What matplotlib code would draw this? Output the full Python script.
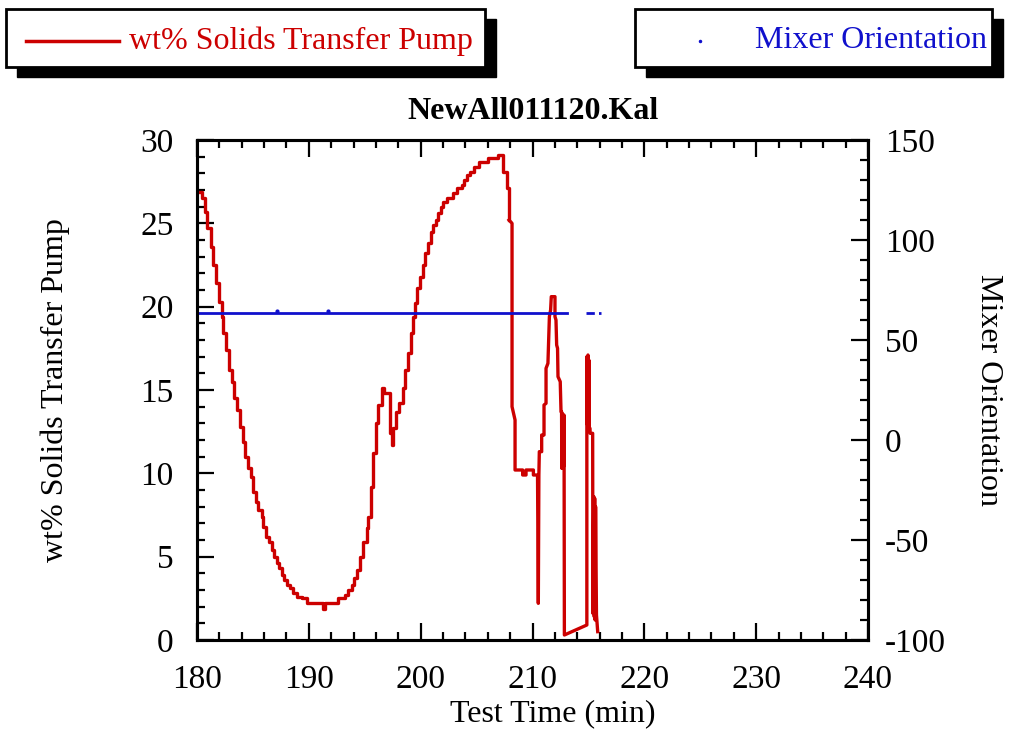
import matplotlib
matplotlib.use('Agg')
import matplotlib.pyplot as plt
from matplotlib.lines import Line2D
from matplotlib.patches import Rectangle
from matplotlib.ticker import MultipleLocator

#Sets data
#wt% solids, drawn as steps
t_pump_steps = [180.30, 180.45, 180.72, 180.92, 181.22, 181.46, 181.70, 181.98, 182.20, 182.35,
	182.59, 182.89, 183.10, 183.31, 183.61, 183.85, 184.08, 184.32, 184.59, 184.80,
	185.04, 185.28, 185.48, 185.78, 185.93, 186.17, 186.47, 186.68, 186.89, 187.12,
	187.36, 187.57, 187.81, 188.08, 188.32, 188.61, 188.91, 189.36, 189.87, 191.24,
	191.45, 192.64, 193.23, 193.53, 193.83, 194.07, 194.28, 194.58, 194.81, 195.17,
	195.32, 195.53, 195.77, 196.01, 196.22, 196.51, 196.72, 197.26, 197.41, 197.50,
	197.79, 198.09, 198.39, 198.60, 198.90, 199.11, 199.34, 199.49, 199.70, 199.94,
	200.18, 200.39, 200.69, 200.90, 201.13, 201.37, 201.58, 201.79, 202.03, 202.33,
	202.92, 203.22, 203.67, 203.88, 204.11, 204.41, 204.77, 205.25, 206.05, 206.95,
	207.33, 207.39, 207.69, 207.90]
wt_pump_steps = [26.9, 26.5, 25.7, 24.7, 23.6, 22.5, 21.4, 20.3, 19.4, 18.4,
	17.4, 16.2, 15.5, 14.5, 13.8, 12.8, 11.9, 11.0, 10.3, 9.8,
	8.9, 8.3, 7.8, 7.4, 6.8, 6.2, 5.9, 5.4, 5.0, 4.6,
	4.3, 3.9, 3.6, 3.3, 3.1, 2.8, 2.6, 2.5, 2.25, 1.85,
	2.25, 2.5, 2.7, 3.0, 3.3, 3.7, 4.2, 5.0, 5.9, 6.7,
	7.4, 9.2, 11.2, 13.0, 14.1, 15.1, 14.8, 12.4, 11.7, 12.7,
	13.7, 14.2, 15.1, 16.2, 17.2, 18.4, 19.4, 20.2, 21.1, 21.8,
	22.5, 23.2, 23.8, 24.5, 24.9, 25.2, 25.6, 26.0, 26.3, 26.5,
	26.8, 27.1, 27.3, 27.6, 27.9, 28.1, 28.4, 28.7, 28.9, 29.1,
	28.9, 28.1, 27.1, 25.2]

#wt% solids, end of the run
t_pump_tail = [207.90, 208.17, 208.17, 208.44, 208.44, 209.12, 209.12, 209.42, 209.42, 210.08,
	210.08, 210.45, 210.52, 210.57, 210.61, 210.82, 210.82, 211.03, 211.03, 211.21,
	211.21, 211.38, 211.51, 211.62, 211.68, 212.01, 212.01, 212.10, 212.16, 212.24,
	212.28, 212.48, 212.55, 212.60, 212.62, 212.66, 212.70, 212.74, 212.78, 212.82,
	212.85, 214.86, 214.86, 214.92, 214.96, 215.00, 215.04, 215.08, 215.14, 215.16,
	215.38, 215.40, 215.48, 215.52, 215.56, 215.60, 215.64, 215.72, 215.83]
wt_pump_tail = [25.2, 25.0, 14.0, 13.2, 10.2, 10.2, 9.9, 9.9, 10.2, 10.2,
	9.9, 9.9, 2.2, 9.9, 11.3, 11.3, 12.3, 12.3, 14.1, 14.2,
	16.3, 16.6, 19.4, 19.8, 20.6, 20.6, 19.4, 19.2, 17.7, 17.5,
	15.8, 15.5, 13.7, 13.7, 10.3, 13.6, 10.3, 13.5, 10.4, 13.5,
	0.3, 0.9, 17.0, 12.9, 17.1, 12.8, 16.8, 12.7, 12.7, 12.4,
	12.4, 1.6, 8.6, 1.4, 8.5, 1.2, 8.0, 1.5, 0.5]

#Mixer orientation
t_mixer_a = [180.0, 213.06]
mixer_a = [63.3, 63.3]
t_mixer_b = [214.77, 216.1]
mixer_b = [63.3, 63.3]
t_mixer_blip = [187.15, 191.7]
mixer_blip = [64.6, 64.6]

red = '#cc0000'
blue = '#1010cc'

plt.rcParams['font.family'] = ['Liberation Serif', 'DejaVu Serif']
plt.rcParams['axes.unicode_minus'] = False

W, H = 1010, 730
fig = plt.figure(figsize=(W/100, H/100), dpi=100)

def fx(px):
	return px / W

def fy(py):
	return 1 - py / H

#Sets up axes
ax = fig.add_axes([fx(197), fy(640), fx(868) - fx(197), fy(140) - fy(640)])
ax2 = ax.twinx()

ax.step(t_pump_steps, wt_pump_steps, where='post', color=red, linewidth=2.4)
ax.plot(t_pump_tail, wt_pump_tail, color=red, linewidth=2.4)

ax2.plot(t_mixer_a, mixer_a, color=blue, linewidth=2.0)
ax2.plot(t_mixer_b, mixer_b, color=blue, linewidth=2.0, dashes=(3, 1.5))
ax2.plot(t_mixer_blip, mixer_blip, '.', color=blue, markersize=4)

ax.set_xlim(180, 240)
ax.set_ylim(0, 30)
ax2.set_ylim(-100, 150)

ax.xaxis.set_major_locator(MultipleLocator(10))
ax.xaxis.set_minor_locator(MultipleLocator(2))
ax.yaxis.set_major_locator(MultipleLocator(5))
ax.yaxis.set_minor_locator(MultipleLocator(1))
ax2.yaxis.set_major_locator(MultipleLocator(50))
ax2.yaxis.set_minor_locator(MultipleLocator(10))

ax.tick_params(which='both', direction='in', top=True, bottom=True, left=True, right=False, width=1.6, labelsize=24)
ax.tick_params(which='major', length=12)
ax.tick_params(which='minor', length=6)
ax.tick_params(axis='x', pad=18)
ax.tick_params(axis='y', pad=17)
ax2.tick_params(which='both', direction='in', left=False, right=True, width=1.6, labelsize=24, pad=12)
ax2.tick_params(which='major', length=12)
ax2.tick_params(which='minor', length=6)

for a in (ax, ax2):
	for s in a.spines.values():
		s.set_linewidth(2.2)

ax.set_xlabel('Test Time (min)', fontsize=23, labelpad=0)
ax.xaxis.set_label_coords(0.53, -0.118)
ax.set_ylabel('wt% Solids Transfer Pump', fontsize=23)
ax.yaxis.set_label_coords(-0.19, 0.5)
ax2.set_ylabel('Mixer Orientation', fontsize=23, rotation=-90, va='center')
ax2.yaxis.set_label_coords(1.18, 0.5)
ax.set_title('NewAll011120.Kal', fontsize=23, fontweight='bold', pad=15)

#Draws the boxed legends with drop shadows
def legend_box(x0, x1, y0, y1):
	fig.add_artist(Rectangle((fx(x0 + 11), fy(y1 + 10)), fx(x1) - fx(x0), fy(y0) - fy(y1),
		transform=fig.transFigure, facecolor='black', edgecolor='black', zorder=1))
	fig.add_artist(Rectangle((fx(x0), fy(y1)), fx(x1) - fx(x0), fy(y0) - fy(y1),
		transform=fig.transFigure, facecolor='white', edgecolor='black', linewidth=2, zorder=2))

legend_box(6, 485, 9, 67)
legend_box(635, 992, 9, 67)

fig.add_artist(Line2D([fx(26), fx(119)], [fy(41), fy(41)], transform=fig.transFigure, color=red, linewidth=2.5, zorder=3))
fig.text(fx(129), fy(41), 'wt% Solids Transfer Pump', color=red, fontsize=23, va='center', ha='left', zorder=3)
fig.add_artist(Line2D([fx(700)], [fy(41)], transform=fig.transFigure, marker='.', markersize=3, color=blue, linestyle='none', zorder=3))
fig.text(fx(987), fy(41), 'Mixer Orientation', color=blue, fontsize=23, va='center', ha='right', zorder=3)

fig.savefig('out.png', dpi=100)
